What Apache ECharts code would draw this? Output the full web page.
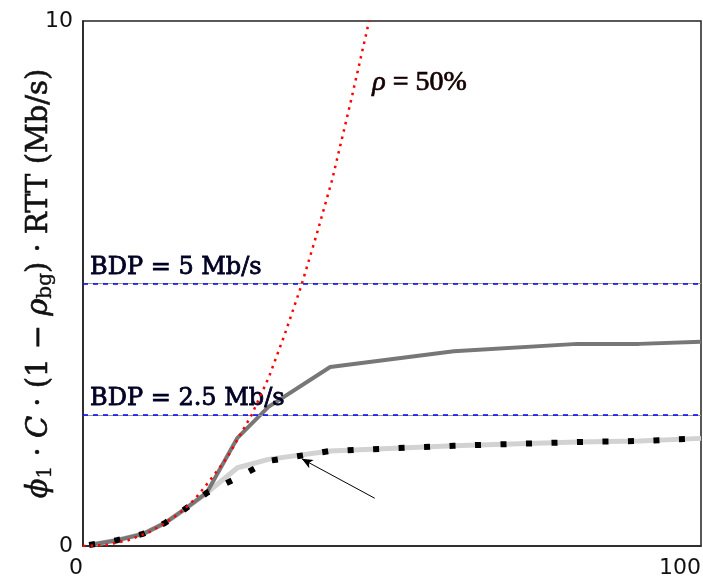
<!DOCTYPE html>
<html>
<head>
<meta charset="utf-8">
<script src="https://cdn.jsdelivr.net/npm/echarts@6/dist/echarts.min.js"></script>
<style>
  html, body { margin: 0; padding: 0; background: #fff; }
  #chart { width: 703px; height: 577px; }
</style>
</head>
<body>
<div id="chart"></div>
<script>
// ---- data ----
const flowsX      = [1, 5.5, 9.7, 13.3, 16.7, 20, 25, 30, 40, 60, 80, 90, 100];
const darkGrayY   = [0.02, 0.11, 0.23, 0.44, 0.72, 1.01, 2.06, 2.65, 3.41, 3.71, 3.85, 3.85, 3.89];
const lightGrayY  = [0.02, 0.11, 0.23, 0.44, 0.72, 1.01, 1.49, 1.65, 1.81, 1.91, 1.98, 2.00, 2.05];
const blackDotY   = [0.02, 0.11, 0.23, 0.44, 0.72, 1.01, 1.30, 1.62, 1.81, 1.91, 1.98, 2.00, 2.05];
const rhoX        = [0, 3.7, 7.3, 10.8, 13.3, 15.7, 18, 20.2, 23.3, 25.7, 27.3, 30.1, 32.7, 35.3, 37.8, 40.3, 43.3, 46.3];
const rhoY        = [0, 0.02, 0.11, 0.27, 0.44, 0.63, 0.88, 1.2, 1.68, 2.17, 2.5, 3.22, 4.05, 4.95, 5.93, 6.97, 8.45, 10];
const bdpValues   = [5, 2.5];
const bdpLabels   = ['BDP = 5 Mb/s', 'BDP = 2.5 Mb/s'];
const rhoLabelAt  = [46.8, 8.82];
const arrowFrom   = [47.2, 0.91];
const arrowTo     = [35.4, 1.66];
const xTicks      = [0, 100];
const yTicks      = [0, 10];

const pairs = (xs, ys) => xs.map((x, i) => [x, ys[i]]);

const chart = echarts.init(document.getElementById('chart'), null, { renderer: 'canvas' });

const bdpMarks = [];
bdpValues.forEach((v, i) => {
  bdpMarks.push({ yAxis: v, lineStyle: { color: '#9a9a9a', width: 1, type: 'solid' }, label: { show: false } });
  bdpMarks.push({
    yAxis: v,
    lineStyle: { color: '#0000ff', width: 1.5, type: [5, 5] },
    label: {
      show: true, position: 'insideStartTop', formatter: bdpLabels[i],
      fontFamily: 'DejaVu Serif', fontSize: 24, color: '#000025',
      textBorderColor: '#000025', textBorderWidth: 0.8, distance: [7, 4]
    }
  });
});

const option = {
  animation: false,
  backgroundColor: '#ffffff',
  grid: { left: 83, right: 2, top: 21, bottom: 31, show: true, borderColor: '#222', borderWidth: 1.5,
          containLabel: false, outerBoundsMode: 'none' },
  xAxis: {
    type: 'value', min: xTicks[0], max: xTicks[1], interval: xTicks[1] - xTicks[0],
    axisLine: { show: true, lineStyle: { color: '#222', width: 1.5 } },
    axisTick: { show: false },
    splitLine: { show: false },
    axisLabel: { align: 'right', margin: 11, fontFamily: 'DejaVu Sans', fontSize: 22, color: '#111' }
  },
  yAxis: {
    type: 'value', min: yTicks[0], max: yTicks[1], interval: yTicks[1] - yTicks[0],
    axisLine: { show: true, lineStyle: { color: '#222', width: 1.5 } },
    axisTick: { show: false },
    splitLine: { show: false },
    axisLabel: { align: 'right', margin: 10, fontFamily: 'DejaVu Sans', fontSize: 22, color: '#111' },
    name: '{i|ϕ}{s|1}{n| · }{i|C}{n| · (1 − }{i|ρ}{s|bg}{n|) · RTT (Mb/s)}',
    nameLocation: 'middle', nameGap: 27, nameRotate: 90, nameMoveOverlap: false,
    nameTextStyle: {
      color: '#111',
      rich: {
        n: { fontFamily: 'DejaVu Serif', fontSize: 29, lineHeight: 34, color: '#111', textBorderColor: '#111', textBorderWidth: 0.6 },
        i: { fontFamily: 'DejaVu Serif', fontStyle: 'italic', fontSize: 29, lineHeight: 34, color: '#111', textBorderColor: '#111', textBorderWidth: 0.6 },
        s: { fontFamily: 'DejaVu Serif', fontSize: 20, lineHeight: 16, verticalAlign: 'bottom', color: '#111', textBorderColor: '#111', textBorderWidth: 0.4 }
      }
    }
  },
  series: [
    {
      type: 'line', data: pairs(flowsX, lightGrayY), showSymbol: false, silent: true,
      lineStyle: { color: '#d2d2d2', width: 5 }, z: 2
    },
    {
      type: 'line', data: pairs(flowsX, darkGrayY), showSymbol: false, silent: true,
      lineStyle: { color: '#777777', width: 4 }, z: 3
    },
    {
      type: 'line', data: pairs(flowsX, blackDotY), showSymbol: false, silent: true,
      lineStyle: { color: '#000000', width: 6, type: [6, 19.5], cap: 'butt' }, z: 4
    },
    {
      type: 'line', data: pairs(rhoX, rhoY), showSymbol: false, silent: true, smooth: false,
      lineStyle: { color: '#ff0000', width: 2.5, type: [2.5, 5], cap: 'butt' }, z: 5,
      markPoint: {
        silent: true, symbol: 'circle', symbolSize: 0,
        data: [{ coord: rhoLabelAt, label: {
          show: true, position: 'right', distance: 0, formatter: '{i|ρ} = 50%',
          fontFamily: 'Liberation Serif', fontSize: 28, color: '#150000',
          textBorderColor: '#150000', textBorderWidth: 0.7,
          rich: { i: { fontFamily: 'Liberation Serif', fontStyle: 'italic', fontSize: 28, color: '#150000', textBorderColor: '#150000', textBorderWidth: 0.7 } }
        } }]
      }
    },
    {
      type: 'line', data: [], silent: true, z: 1,
      markLine: { silent: true, symbol: 'none', animation: false, data: bdpMarks }
    },
    {
      type: 'line', data: [], silent: true, z: 6,
      markLine: {
        silent: true, animation: false,
        lineStyle: { color: '#000', width: 1, type: 'solid' },
        label: { show: false },
        data: [[ { coord: arrowFrom, symbol: 'none' }, { coord: arrowTo, symbol: 'arrow', symbolSize: [7, 11] } ]]
      }
    }
  ]
};
chart.setOption(option);
</script>
</body>
</html>
